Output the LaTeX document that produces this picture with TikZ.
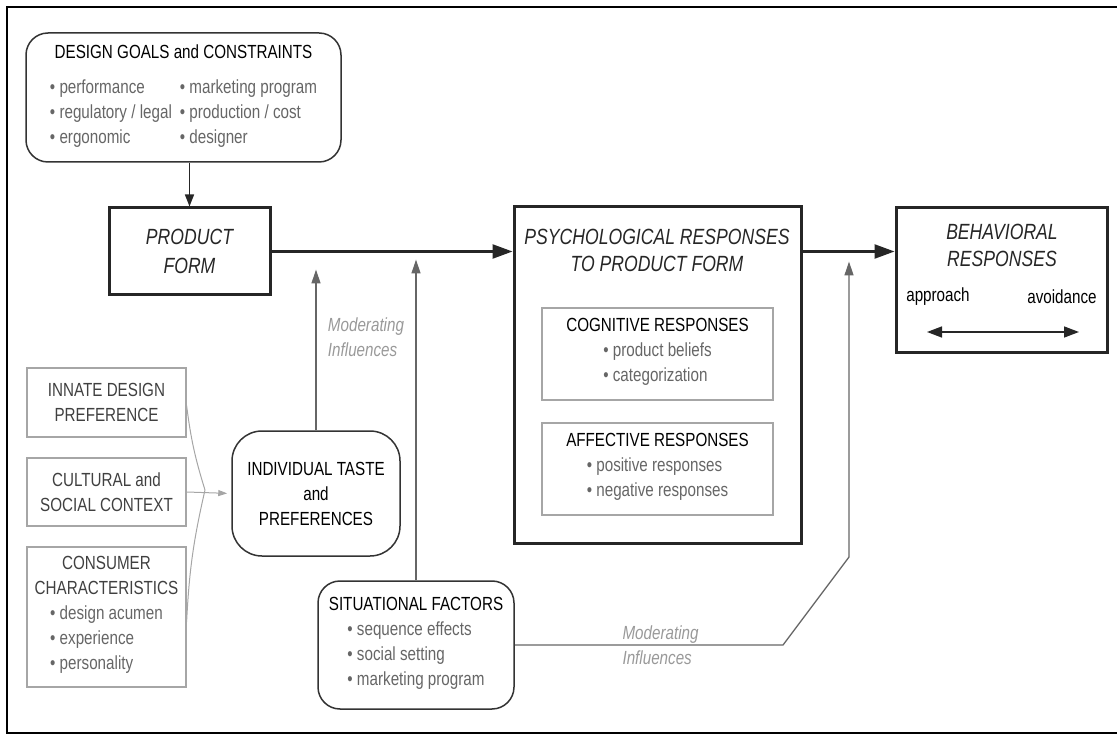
\documentclass[tikz,border=0pt]{standalone}
\usepackage{fontspec}
\setmainfont{Liberation Sans}[FakeStretch=0.8]
\usetikzlibrary{arrows.meta}

\newcommand{\txt}{\fontsize{19}{25}\selectfont}
\newcommand{\hdr}{\fontsize{22}{27}\selectfont\itshape}
\newcommand{\itm}{\color{black!60}}

\begin{document}
\begin{tikzpicture}[x=1pt,y=-1pt,
	plain box/.style={draw=gray!70,line width=1.2pt,inner sep=0pt,align=center,font=\txt,text=black!75},
	round box/.style={draw=black!80,line width=1.5pt,rounded corners=22pt,inner sep=0pt,align=center,font=\txt,text=black},
	heavy box/.style={draw=black!85,line width=3pt,inner sep=0pt},
	hdr text/.style={font=\hdr,align=center,text=black!85},
	main arrow/.style={-{Triangle[length=20pt,width=14pt]},line width=2.4pt,black!85},
	mod arrow/.style={-{Triangle[length=14pt,width=9pt]},line width=1.3pt,gray!80!black},
	thin line/.style={gray!70,line width=1pt},
	mod label/.style={font=\txt\itshape,text=gray!80,align=left}
]

	\useasboundingbox (0,0) rectangle (1117,735);
	\draw[line width=1.2pt] (1117,7) -- (7,7) -- (7,733) -- (1117,733);

	% top row
	\node[round box,minimum width=315pt,minimum height=129pt] (goals) at (183.5,97.5)
		{DESIGN GOALS and CONSTRAINTS\\[10pt]
		{\itm\begin{tabular}[t]{@{}l@{\hspace{8pt}}l@{}}
			• performance & • marketing program\\
			• regulatory / legal & • production / cost\\
			• ergonomic & • designer
		\end{tabular}}};
	\node[heavy box,minimum width=161pt,minimum height=87pt,hdr text,font=\fontsize{22}{29}\selectfont\itshape] (form) at (189.5,251.5) {PRODUCT\\FORM};

	\node[heavy box,minimum width=287pt,minimum height=336pt] (psych) at (657.5,375) {};
	\node[hdr text] (psychT) at (657,250) {PSYCHOLOGICAL RESPONSES\\TO PRODUCT FORM};
	\node[plain box,text=black,minimum width=231pt,minimum height=92pt] (cog) at (657.5,354)
		{COGNITIVE RESPONSES\\{\itm\begin{tabular}[t]{@{}l@{}}• product beliefs\\• categorization\end{tabular}}};
	\node[plain box,text=black,minimum width=231pt,minimum height=92pt] (aff) at (657.5,469)
		{AFFECTIVE RESPONSES\\{\itm\begin{tabular}[t]{@{}l@{}}• positive responses\\• negative responses\end{tabular}}};

	\node[heavy box,minimum width=211pt,minimum height=145pt] (behav) at (1001.5,280.5) {};
	\node[hdr text] (behavT) at (1002,245) {BEHAVIORAL\\RESPONSES};
	\node[font=\txt,text=black] (approach) at (938,297) {approach};
	\node[font=\txt,text=black] (avoidance) at (1062,297) {avoidance};
	\coordinate (apL) at (927,332);
	\coordinate (apR) at (1079,332);
	\draw[{Triangle[length=15pt,width=11pt]}-{Triangle[length=15pt,width=11pt]},line width=1.5pt,black!85] (apL) -- (apR);

	% left inputs
	\node[plain box,minimum width=159pt,minimum height=69pt] (innate) at (106.5,402.5) {INNATE DESIGN\\PREFERENCE};
	\node[plain box,minimum width=159pt,minimum height=68pt] (cultural) at (106.5,492) {CULTURAL and\\SOCIAL CONTEXT};
	\node[plain box,minimum width=159pt,minimum height=140pt] (consumer) at (106.5,617)
		{CONSUMER\\CHARACTERISTICS\\{\itm\begin{tabular}[t]{@{}l@{}}• design acumen\\• experience\\• personality\end{tabular}}};

	\node[round box,rounded corners=30pt,minimum width=168pt,minimum height=125pt] (taste) at (316,493.5)
		{INDIVIDUAL TASTE\\and\\PREFERENCES};
	\node[round box,minimum width=196pt,minimum height=128pt] (situ) at (416,645)
		{SITUATIONAL FACTORS\\{\itm\begin{tabular}[t]{@{}l@{}}• sequence effects\\• social setting\\• marketing program\end{tabular}}};

	\node[mod label] (modA) at (366,337) {Moderating\\Influences};
	\node[mod label,anchor=west] (modB) at (619,645.5) {Moderating\\Influences};

	% connectors
	\draw[-{Triangle[length=12pt,width=9pt]},line width=1.5pt,black!85] (goals.south -| form.north) -- (form.north);
	\draw[main arrow] (form.east) -- (form.east -| psych.west);
	\draw[main arrow] (form.east -| psych.east) -- (form.east -| behav.west);

	\draw[mod arrow,shorten >=18pt] (taste.north) -- (taste.north |- form.east);
	\draw[mod arrow,shorten >=8pt] (situ.north) -- (situ.north |- form.east);
	\coordinate (kinkA) at (783,645);
	\coordinate (kinkB) at (849,557);
	\draw[mod arrow,shorten >=10pt] (situ.east) -- (kinkA) -- (kinkB) -- (kinkB |- form.east);

	\coordinate (merge) at (205,490);
	\draw[thin line] ([yshift=-3pt]innate.east) to[bend right=5] (merge);
	\draw[thin line] ([yshift=-5pt]consumer.east) to[bend left=5] (merge);
	\draw[thin line,-{Triangle[length=9pt,width=6pt]},shorten >=4pt] (cultural.east) -- (taste.west);
\end{tikzpicture}
\end{document}
